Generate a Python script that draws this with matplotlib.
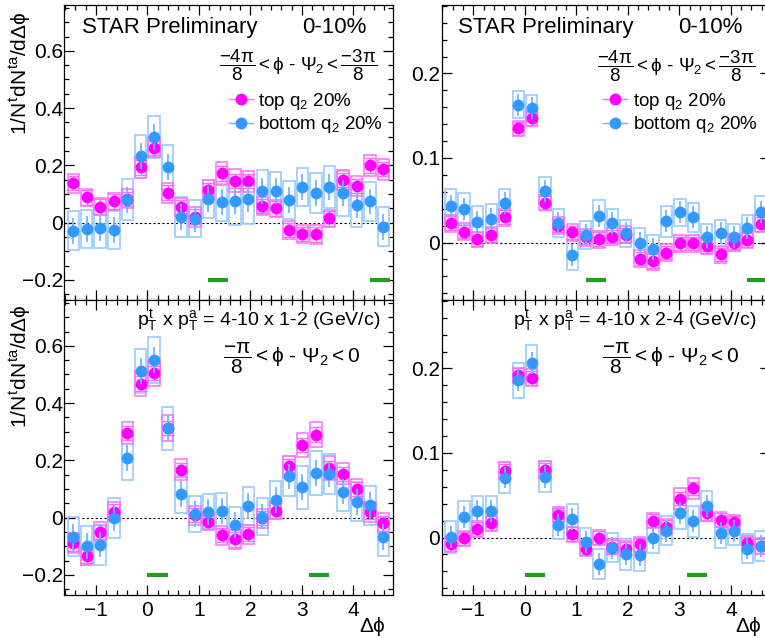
#!/usr/bin/env python3
# -*- coding: utf-8 -*-
"""
STAR preliminary: trigger-associated correlations vs delta phi,
top q2 20% vs bottom q2 20%, 0-10% centrality, two phi-Psi2 bins and two pT bins
"""

import numpy as np
import matplotlib
matplotlib.use("Agg")
import matplotlib.pyplot as plt
from matplotlib.lines import Line2D
from matplotlib.ticker import MultipleLocator, FuncFormatter

plt.rcParams['font.family'] = ['Liberation Sans', 'DejaVu Sans']
plt.rcParams['mathtext.fontset'] = 'custom'
plt.rcParams['mathtext.rm'] = 'Liberation Sans'
plt.rcParams['mathtext.it'] = 'Liberation Sans'
plt.rcParams['mathtext.sf'] = 'Liberation Sans'
plt.rcParams['mathtext.bf'] = 'Liberation Sans:bold'
plt.rcParams['mathtext.fallback'] = 'stixsans'

#### Data ####

#Bin centres in delta phi
dphi = [-1.44, -1.18, -0.92, -0.65, -0.39, -0.13, 0.13, 0.39, 0.65, 0.92, 1.18, 1.44,
        1.70, 1.96, 2.23, 2.49, 2.75, 3.01, 3.27, 3.53, 3.80, 4.06, 4.32, 4.58]

#Top left: pT 4-10 x 1-2, -4pi/8 < phi-Psi2 < -3pi/8
tl_top = [0.138, 0.088, 0.056, 0.074, 0.083, 0.193, 0.261, 0.105, 0.055, 0.021, 0.115, 0.172,
          0.146, 0.145, 0.058, 0.050, -0.026, -0.040, -0.041, 0.015, 0.150, 0.129, 0.200, 0.187]
tl_top_sys = [0.033, 0.030, 0.030, 0.030, 0.033, 0.037, 0.033, 0.035, 0.032, 0.035, 0.035, 0.040,
              0.040, 0.037, 0.030, 0.030, 0.032, 0.032, 0.032, 0.030, 0.035, 0.035, 0.037, 0.037]
tl_bot = [-0.028, -0.023, -0.020, -0.026, 0.080, 0.232, 0.299, 0.194, 0.020, 0.014, 0.082, 0.071,
          0.074, 0.082, 0.111, 0.111, 0.080, 0.124, 0.103, 0.124, 0.103, 0.062, 0.074, -0.014]
tl_bot_sys = [0.068, 0.067, 0.070, 0.067, 0.071, 0.075, 0.074, 0.076, 0.070, 0.065, 0.066, 0.065,
              0.082, 0.085, 0.073, 0.067, 0.067, 0.067, 0.070, 0.073, 0.079, 0.078, 0.069, 0.069]

#Top right: pT 4-10 x 2-4, -4pi/8 < phi-Psi2 < -3pi/8
tr_top = [0.023, 0.013, 0.004, 0.009, 0.030, 0.135, 0.147, 0.047, 0.020, 0.012, 0.006, 0.004,
          0.007, 0.009, -0.019, -0.022, -0.012, -0.001, -0.001, -0.004, -0.014, 0.000, 0.003, 0.022]
tr_top_sys = [0.010, 0.010, 0.009, 0.009, 0.010, 0.009, 0.009, 0.009, 0.010, 0.010, 0.010, 0.010,
              0.010, 0.010, 0.010, 0.010, 0.010, 0.010, 0.010, 0.010, 0.010, 0.010, 0.010, 0.010]
tr_bot = [0.043, 0.040, 0.024, 0.028, 0.047, 0.163, 0.159, 0.061, 0.023, -0.015, 0.009, 0.031,
          0.023, 0.011, 0.000, -0.008, 0.025, 0.036, 0.030, 0.006, 0.011, 0.006, 0.017, 0.036]
tr_bot_sys = [0.020, 0.019, 0.019, 0.018, 0.016, 0.016, 0.016, 0.016, 0.017, 0.018, 0.017, 0.019,
              0.017, 0.016, 0.017, 0.017, 0.018, 0.016, 0.017, 0.016, 0.016, 0.016, 0.016, 0.019]

#Bottom left: pT 4-10 x 1-2, -pi/8 < phi-Psi2 < 0
bl_top = [-0.090, -0.133, -0.049, 0.021, 0.296, 0.468, 0.505, 0.313, 0.167, 0.009, -0.014, -0.061,
          -0.076, -0.058, -0.002, 0.025, 0.179, 0.253, 0.290, 0.173, 0.153, 0.099, 0.021, -0.020]
bl_top_sys = [0.035, 0.032, 0.033, 0.033, 0.039, 0.044, 0.044, 0.044, 0.037, 0.033, 0.030, 0.033,
              0.033, 0.033, 0.033, 0.030, 0.037, 0.042, 0.044, 0.042, 0.037, 0.037, 0.035, 0.035]
bl_bot = [-0.067, -0.098, -0.094, 0.000, 0.208, 0.512, 0.551, 0.313, 0.082, 0.013, 0.021, 0.023,
          -0.026, 0.042, 0.004, 0.062, 0.144, 0.106, 0.156, 0.152, 0.091, 0.056, 0.044, -0.067]
bl_bot_sys = [0.068, 0.068, 0.070, 0.070, 0.078, 0.077, 0.080, 0.075, 0.064, 0.063, 0.060, 0.063,
              0.063, 0.066, 0.066, 0.066, 0.070, 0.075, 0.076, 0.070, 0.068, 0.068, 0.068, 0.068]

#Bottom right: pT 4-10 x 2-4, -pi/8 < phi-Psi2 < 0
br_top = [-0.008, -0.001, 0.010, 0.017, 0.079, 0.192, 0.189, 0.080, 0.027, 0.004, -0.013, 0.000,
          -0.011, -0.013, -0.008, 0.020, 0.013, 0.046, 0.058, 0.029, 0.021, 0.018, -0.007, -0.010]
br_top_sys = [0.009, 0.009, 0.009, 0.009, 0.010, 0.009, 0.010, 0.010, 0.009, 0.009, 0.009, 0.009,
              0.009, 0.009, 0.009, 0.009, 0.009, 0.012, 0.012, 0.010, 0.009, 0.009, 0.009, 0.009]
br_bot = [0.001, 0.024, 0.031, 0.031, 0.071, 0.186, 0.206, 0.072, 0.015, 0.022, -0.005, -0.031,
          -0.012, -0.020, -0.021, 0.000, 0.008, 0.029, 0.019, 0.037, 0.005, 0.008, -0.013, -0.010]
br_bot_sys = [0.019, 0.019, 0.018, 0.018, 0.018, 0.021, 0.022, 0.018, 0.017, 0.018, 0.016, 0.018,
              0.017, 0.018, 0.019, 0.018, 0.017, 0.019, 0.018, 0.018, 0.017, 0.017, 0.017, 0.018]

#Statistical errors (roughly constant per panel)
stat_left_top, stat_left_bot = 0.025, 0.045
stat_right_top, stat_right_bot = 0.008, 0.013

#Green bars marking the phi-Psi2 window
green_upper = [(1.18, 1.57), (4.32, 4.71)]
green_lower = [(0.0, 0.39), (3.14, 3.53)]
green_y_left, green_y_right = -0.2, -0.044

#Colours
pink = "#ff00ff"
pink_box = "#ff6dff"
blue = "#3399ff"
blue_box = "#9fcfff"
blue_err = "#70b5ff"
green = "#1f9e1f"

W, H = 765, 638


def px_box(l, t, r, b):
    """Axes rectangle from pixel edges (image coords, y down)"""
    return [l / W, 1 - b / H, (r - l) / W, (b - t) / H]


def root_label(v, pos):
    """ROOT style tick label: 0 instead of 0.0, real minus sign"""
    if abs(v) < 1e-9:
        return "0"
    return f"{v:.1f}".replace("-", "\u2212")


def draw_panel(ax, top, top_sys, top_stat, bot, bot_sys, bot_stat):
    """Draws both q2 selections with systematic boxes and stat bars"""
    x = np.array(dphi)
    bw = 0.22
    top = np.array(top)
    bot = np.array(bot)
    ts = np.array(top_sys)
    bs = np.array(bot_sys)
    ax.bar(x, 2 * bs, bottom=bot - bs, width=bw, fill=False, edgecolor=blue_box, lw=1.3, zorder=2)
    ax.bar(x, 2 * ts, bottom=top - ts, width=bw, fill=False, edgecolor=pink_box, lw=1.1, zorder=3)
    ax.errorbar(x, top, yerr=top_stat, fmt='o', color=pink, ecolor=pink_box, elinewidth=1.0,
                capsize=4, capthick=1.0, markersize=7.5, zorder=4)
    ax.errorbar(x, bot, yerr=bot_stat, fmt='o', color=blue, ecolor=blue_err, elinewidth=1.3,
                capsize=0, markersize=7.5, zorder=5)
    ax.axhline(0, color='k', lw=0.8, ls=(0, (2, 2)), zorder=1)


def style_axes(ax, ylim, ymajor, yminor, xlabels):
    ax.set_xlim(-1.615, 4.762)
    ax.set_ylim(*ylim)
    ax.xaxis.set_major_locator(MultipleLocator(1))
    ax.xaxis.set_minor_locator(MultipleLocator(0.2))
    ax.yaxis.set_major_locator(MultipleLocator(ymajor))
    ax.yaxis.set_minor_locator(MultipleLocator(yminor))
    ax.yaxis.set_major_formatter(FuncFormatter(root_label))
    ax.tick_params(which='both', direction='in', top=True, right=True, width=0.9)
    ax.tick_params(which='major', length=7, labelsize=15, pad=2)
    ax.tick_params(which='minor', length=3.5)
    ax.tick_params(axis='y', pad=1)
    ax.tick_params(axis='x', labelbottom=xlabels, pad=4)
    for s in ax.spines.values():
        s.set_linewidth(0.9)


fig = plt.figure(figsize=(7.65, 6.38), dpi=100)

ax_tl = fig.add_axes(px_box(64.3, 5, 392.7, 300))
ax_tr = fig.add_axes(px_box(441.7, 5, 770.1, 300))
ax_bl = fig.add_axes(px_box(64.3, 300, 392.7, 595))
ax_br = fig.add_axes(px_box(441.7, 300, 770.1, 595))

draw_panel(ax_tl, tl_top, tl_top_sys, stat_left_top, tl_bot, tl_bot_sys, stat_left_bot)
draw_panel(ax_tr, tr_top, tr_top_sys, stat_right_top, tr_bot, tr_bot_sys, stat_right_bot)
draw_panel(ax_bl, bl_top, bl_top_sys, stat_left_top, bl_bot, bl_bot_sys, stat_left_bot)
draw_panel(ax_br, br_top, br_top_sys, stat_right_top, br_bot, br_bot_sys, stat_right_bot)

style_axes(ax_tl, (-0.27, 0.76), 0.2, 0.05, False)
style_axes(ax_bl, (-0.27, 0.76), 0.2, 0.05, True)
style_axes(ax_tr, (-0.068, 0.281), 0.1, 0.02, False)
style_axes(ax_br, (-0.068, 0.281), 0.1, 0.02, True)

#Green window markers
for lo, hi in green_upper:
    ax_tl.hlines(green_y_left, lo, hi, color=green, lw=3, zorder=6)
    ax_tr.hlines(green_y_right, lo, hi, color=green, lw=3, zorder=6)
for lo, hi in green_lower:
    ax_bl.hlines(green_y_left, lo, hi, color=green, lw=3, zorder=6)
    ax_br.hlines(green_y_right, lo, hi, color=green, lw=3, zorder=6)

#Legends in the top panels
handles = [Line2D([0], [0], marker='o', color=pink_box, mfc=pink, mec=pink, markersize=7.5, lw=1),
           Line2D([0], [0], marker='o', color=blue_err, mfc=blue, mec=blue, markersize=7.5, lw=1)]
labels = ["top q$_{2}$ 20%", "bottom q$_{2}$ 20%"]
for ax, xa in [(ax_tl, 0.5), (ax_tr, 0.49)]:
    ax.legend(handles, labels, loc='upper left', bbox_to_anchor=(xa, 0.71), frameon=False,
              fontsize=13.5, handlelength=1.3, handletextpad=0.3, labelspacing=0.15, borderpad=0,
              borderaxespad=0)

#Text labels (pixel positions)
def ftext(x, y, s, **kw):
    fig.text(x / W, 1 - y / H, s, **kw)

for x0, x1 in [(82, 302), (458, 678)]:
    ftext(x0, 33, "STAR Preliminary", fontsize=16, va='baseline')
    ftext(x1, 33, "0-10%", fontsize=16, va='baseline')

frac_top = r"$\dfrac{-4\pi}{8} < \phi$ - $\Psi_{2} < \dfrac{-3\pi}{8}$"
frac_bot = r"$\dfrac{-\pi}{8} < \phi$ - $\Psi_{2} < 0$"
ftext(298, 65, frac_top, fontsize=13.5, ha='center', va='center')
ftext(676, 66, frac_top, fontsize=13.5, ha='center', va='center')
ftext(291, 358, frac_bot, fontsize=15, ha='center', va='center')
ftext(670, 358, frac_bot, fontsize=15, ha='center', va='center')

ftext(137, 321, r"$p_{T}^{t}$ x $p_{T}^{a}$ = 4-10 x 1-2 (GeV/c)", fontsize=14, va='center')
ftext(513, 321, r"$p_{T}^{t}$ x $p_{T}^{a}$ = 4-10 x 2-4 (GeV/c)", fontsize=14, va='center')

ylab = r"$1/N^{t}dN^{ta}/d\Delta\phi$"
ftext(20, 12, ylab, fontsize=15, rotation=90, ha='center', va='top')
ftext(20, 305, ylab, fontsize=15, rotation=90, ha='center', va='top')

ftext(386, 627, r"$\Delta\phi$", fontsize=15, ha='right', va='center')
ftext(762, 627, r"$\Delta\phi$", fontsize=15, ha='right', va='center')

fig.savefig("out.png", dpi=100)
